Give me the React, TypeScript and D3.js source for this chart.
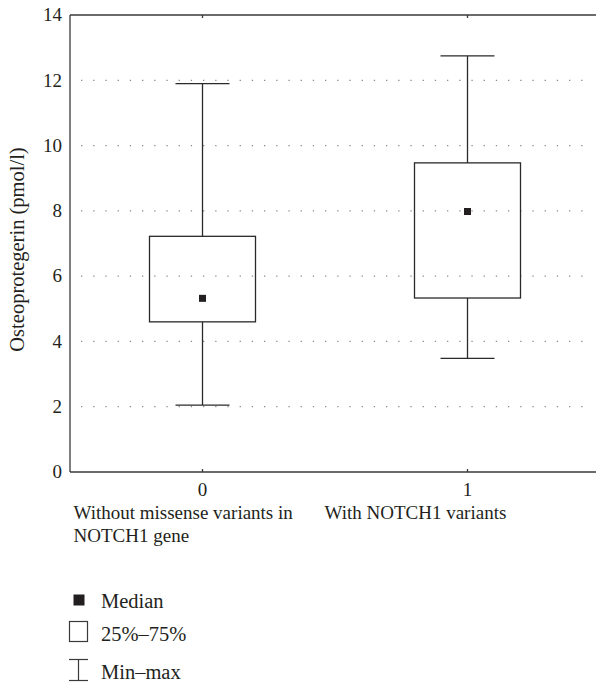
import React, { useEffect, useRef } from 'react';
import * as d3 from 'd3';

// box plot: osteoprotegerin by NOTCH1 variant status
const groups = ['0', '1'];
const groupLabels = [['Without missense variants in', 'NOTCH1 gene'], ['With NOTCH1 variants']];
const mins = [2.05, 3.48];
const q1s = [4.6, 5.33];
const medians = [5.32, 7.98];
const q3s = [7.22, 9.47];
const maxs = [11.9, 12.75];
const yTicks = [0, 2, 4, 6, 8, 10, 12, 14];
const gridValues = [2, 4, 6, 8, 10, 12];
const legendItems = ['Median', '25%\u201375%', 'Min\u2013max'];

const W = 596;
const H = 682;
const ink = '#231f20';
const font = "'Liberation Serif', 'Times New Roman', serif";

const App = () => {
    const ref = useRef(null);

    useEffect(() => {
        d3.select(ref.current).selectAll('*').remove();
        const svg = d3.select(ref.current);

        const left = 70, right = 600, top = 15, bottom = 472;
        const x = d3.scalePoint().domain(groups).range([left, right]).padding(0.5);
        const y = d3.scaleLinear().domain([0, 14]).range([bottom, top]);

        const boxW = 106;
        const capW = 54;

        // dotted grid
        svg.append('g')
            .attr('stroke', '#8a8a8a')
            .attr('stroke-width', 1.3)
            .attr('stroke-dasharray', '1.3,10.9')
            .selectAll('line')
            .data(gridValues)
            .join('line')
            .attr('x1', 81).attr('x2', 590)
            .attr('y1', d => y(d)).attr('y2', d => y(d));

        // frame
        const frame = svg.append('g').attr('stroke', '#3a3a3a').attr('stroke-width', 1.3).attr('fill', 'none');
        frame.append('line').attr('x1', left).attr('x2', right).attr('y1', top).attr('y2', top);
        frame.append('line').attr('x1', left).attr('x2', right).attr('y1', bottom).attr('y2', bottom);
        frame.append('line').attr('x1', left).attr('x2', left).attr('y1', top).attr('y2', bottom);
        frame.selectAll('.tt').data(groups).join('line')
            .attr('x1', d => x(d)).attr('x2', d => x(d)).attr('y1', top).attr('y2', top + 3);
        frame.selectAll('.tb').data(groups).join('line')
            .attr('x1', d => x(d)).attr('x2', d => x(d)).attr('y1', bottom).attr('y2', bottom - 3);

        // y tick labels
        svg.append('g')
            .attr('font-family', font).attr('font-size', 19).attr('fill', ink)
            .attr('text-anchor', 'end')
            .selectAll('text').data(yTicks).join('text')
            .attr('x', 62).attr('y', d => y(d)).attr('dy', '0.33em')
            .text(d => d);

        // y title
        svg.append('text')
            .attr('font-family', font).attr('font-size', 20.5).attr('fill', ink)
            .attr('text-anchor', 'middle')
            .attr('transform', `translate(24,${(top + bottom) / 2 + 6}) rotate(-90)`)
            .text('Osteoprotegerin (pmol/l)');

        // x tick labels
        svg.append('g')
            .attr('font-family', font).attr('font-size', 19).attr('fill', ink)
            .attr('text-anchor', 'middle')
            .selectAll('text').data(groups).join('text')
            .attr('x', d => x(d)).attr('y', 496)
            .text(d => d);

        // category labels
        const labelOffset = [-129, -143];
        groups.forEach((g, i) => {
            svg.append('text')
                .attr('font-family', font).attr('font-size', 19).attr('fill', ink)
                .selectAll('tspan').data(groupLabels[i]).join('tspan')
                .attr('x', x(g) + labelOffset[i])
                .attr('y', (d, j) => 519 + j * 23)
                .text(d => d);
        });

        // boxes
        const boxes = svg.append('g').attr('stroke', '#2a2a2a').attr('stroke-width', 1.3).attr('fill', 'none');
        groups.forEach((g, i) => {
            const cx = x(g);
            boxes.append('line').attr('x1', cx).attr('x2', cx).attr('y1', y(maxs[i])).attr('y2', y(q3s[i]));
            boxes.append('line').attr('x1', cx).attr('x2', cx).attr('y1', y(q1s[i])).attr('y2', y(mins[i]));
            boxes.append('line').attr('x1', cx - capW / 2).attr('x2', cx + capW / 2).attr('y1', y(maxs[i])).attr('y2', y(maxs[i]));
            boxes.append('line').attr('x1', cx - capW / 2).attr('x2', cx + capW / 2).attr('y1', y(mins[i])).attr('y2', y(mins[i]));
            boxes.append('rect')
                .attr('x', cx - boxW / 2).attr('width', boxW)
                .attr('y', y(q3s[i])).attr('height', y(q1s[i]) - y(q3s[i]));
            svg.append('rect')
                .attr('x', cx - 3.5).attr('y', y(medians[i]) - 3.5)
                .attr('width', 7).attr('height', 7)
                .attr('fill', ink);
        });

        // legend
        const lg = svg.append('g');
        lg.append('rect').attr('x', 73.5).attr('y', 594.5).attr('width', 11).attr('height', 11).attr('fill', ink);
        lg.append('rect').attr('x', 69.5).attr('y', 621.5).attr('width', 18).attr('height', 20)
            .attr('fill', 'none').attr('stroke', '#3a3a3a').attr('stroke-width', 1.2);
        const ib = lg.append('g').attr('stroke', '#3a3a3a').attr('stroke-width', 1.2);
        ib.append('line').attr('x1', 69).attr('x2', 88).attr('y1', 659.5).attr('y2', 659.5);
        ib.append('line').attr('x1', 78.5).attr('x2', 78.5).attr('y1', 659.5).attr('y2', 680.5);
        ib.append('line').attr('x1', 69).attr('x2', 88).attr('y1', 680.5).attr('y2', 680.5);
        lg.selectAll('text').data(legendItems).join('text')
            .attr('font-family', font).attr('font-size', 20.5).attr('fill', ink)
            .attr('x', 101)
            .attr('y', (d, i) => [608, 641, 679][i])
            .text(d => d);
    }, []);

    return (
        <svg ref={ref} width={W} height={H} style={{ position: 'absolute', left: 0, top: 0, background: '#fff' }} />
    );
};

export default App;
